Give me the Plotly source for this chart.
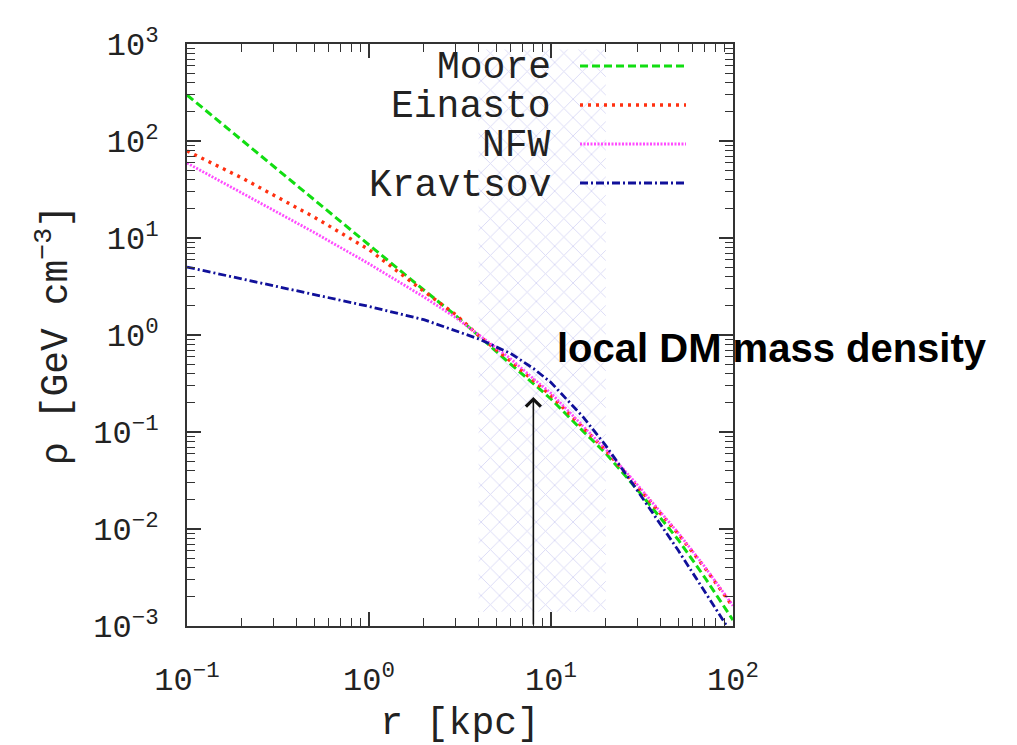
import plotly.graph_objects as go
import math

# ---------------- data ----------------
r_kpc = [0.1, 0.2, 0.5, 1, 2, 3, 4, 6, 8, 10, 15, 20, 30, 50, 70, 100]
rho_moore = [298, 102, 25.0, 8.59, 2.91, 1.585, 0.979, 0.501, 0.316, 0.219,
             0.102, 0.0603, 0.0251, 0.00776, 0.00316, 0.00115]
rho_einasto = [78.9, 41.7, 16.4, 7.59, 2.82, 1.62, 0.989, 0.537, 0.339, 0.237,
               0.111, 0.0646, 0.0269, 0.00891, 0.00398, 0.00158]
rho_nfw = [59.3, 29.4, 11.4, 5.42, 2.47, 1.51, 1.00, 0.569, 0.355, 0.251,
           0.115, 0.0661, 0.0282, 0.00912, 0.00407, 0.00162]
rho_kravtsov = [5.02, 3.80, 2.63, 1.97, 1.44, 1.10, 0.912, 0.646, 0.452, 0.324,
                0.143, 0.0724, 0.0245, 0.00603, 0.00224, 0.000794]

series_names = ["Moore", "Einasto", "NFW", "Kravtsov"]

# shaded band (solar neighbourhood range)
band_r = [4, 20]
band_rho = [1.4e-3, 880]

# local DM density arrow
local_r = 8.0
local_rho_tip = 0.23
local_rho_base = 1e-3
local_label = "local DM mass density"

x_tickvals = [0.1, 1, 10, 100]
x_ticktext = ["10<sup>\u22121</sup>", "10<sup>0</sup>", "10<sup>1</sup>", "10<sup>2</sup>"]
y_tickvals = [1e-3, 1e-2, 1e-1, 1, 10, 100, 1000]
y_ticktext = ["10<sup>\u22123</sup>", "10<sup>\u22122</sup>", "10<sup>\u22121</sup>",
              "10<sup>0</sup>", "10<sup>1</sup>", "10<sup>2</sup>", "10<sup>3</sup>"]

# ---------------- styles ----------------
styles = {
    "Moore": dict(color="#11dd11", width=3, dash="8px,4px"),
    "Einasto": dict(color="#ff3010", width=3.4, dash="3px,5px"),
    "NFW": dict(color="#ff4cff", width=2.8, dash="2px,1.5px"),
    "Kravtsov": dict(color="#10109a", width=2.8, dash="8px,3px,2px,3px"),
}
values = {"Moore": rho_moore, "Einasto": rho_einasto, "NFW": rho_nfw, "Kravtsov": rho_kravtsov}

MONO = "Liberation Mono"
AX = "#333333"
TXT = "#222222"

fig = go.Figure()

# hatched band
fig.add_trace(go.Scatter(
    x=[band_r[0], band_r[1], band_r[1], band_r[0]],
    y=[band_rho[0], band_rho[0], band_rho[1], band_rho[1]],
    fill="toself", mode="lines", line=dict(width=0),
    fillcolor="rgba(255,255,255,0)",
    fillpattern=dict(shape="x", fgcolor="#b4b4ec", bgcolor="rgba(255,255,255,0)",
                     size=13, solidity=0.14),
    hoverinfo="skip", showlegend=False,
))

for name in series_names:
    fig.add_trace(go.Scatter(
        x=r_kpc, y=values[name], mode="lines", name=name,
        line=styles[name], showlegend=False,
    ))

# ---------------- axes ----------------
def minor_vals(e0, e1):
    return [k * 10 ** e for e in range(e0, e1) for k in range(2, 10)]

common = dict(
    type="log", showgrid=False, zeroline=False,
    showline=True, linecolor=AX, linewidth=2, mirror="allticks",
    ticks="inside", ticklen=14, tickwidth=1.5, tickcolor=AX,
    tickfont=dict(family=MONO, size=32, color=TXT),
    tickmode="array",
)

fig.update_xaxes(
    **common, range=[-1, 2], tickvals=x_tickvals, ticktext=x_ticktext,
    ticklabelstandoff=24,
    minor=dict(ticks="inside", ticklen=8, tickwidth=1.2, tickcolor=AX, showgrid=False,
               tickmode="array", tickvals=minor_vals(-1, 2)),
    title=dict(text="r [kpc]", font=dict(family=MONO, size=38, color=TXT), standoff=12),
)
fig.update_yaxes(
    **common, range=[-3, 3], tickvals=y_tickvals, ticktext=y_ticktext,
    ticklabelstandoff=20,
    minor=dict(ticks="inside", ticklen=8, tickwidth=1.2, tickcolor=AX, showgrid=False,
               tickmode="array", tickvals=minor_vals(-3, 3)),
    title=dict(text="\u03c1 [GeV cm<sup>\u22123</sup>]",
               font=dict(family=MONO, size=38, color=TXT), standoff=14),
)

# ---------------- custom legend (text left of sample line) ----------------
legend_y_px = [66, 105, 144, 183]
plot_top, plot_bottom, plot_left, plot_w = 44, 626, 187, 546
annotations = []
shapes = []
for name, ypx in zip(series_names, legend_y_px):
    yp = (plot_bottom - ypx) / (plot_bottom - plot_top)
    annotations.append(dict(
        x=(553 - plot_left) / plot_w, y=yp - 2 / 582, xref="paper", yref="paper",
        xanchor="right", yanchor="middle", text=name, showarrow=False,
        font=dict(family=MONO, size=38, color=TXT),
    ))
    st = styles[name]
    shapes.append(dict(
        type="line", xref="paper", yref="paper",
        x0=(580 - plot_left) / plot_w, x1=(686 - plot_left) / plot_w, y0=yp, y1=yp,
        line=dict(color=st["color"], width=st["width"], dash=st["dash"]),
    ))

# arrow to local density
annotations.append(dict(
    x=math.log10(local_r), y=math.log10(local_rho_tip), xref="x", yref="y",
    ax=math.log10(local_r), ay=math.log10(local_rho_base), axref="x", ayref="y",
    text="", showarrow=True, arrowhead=4, arrowsize=1.8, arrowwidth=1.6,
    arrowcolor="#111111", standoff=0, startstandoff=0,
))
annotations.append(dict(
    x=(555 - plot_left) / plot_w, y=(plot_bottom - 348) / 582, xref="paper", yref="paper",
    xanchor="left", yanchor="middle", text=local_label, showarrow=False,
    font=dict(family="Liberation Sans", size=40, color="#000000", weight="bold"),
))

fig.update_layout(
    width=1017, height=745,
    margin=dict(l=187, r=284, t=44, b=119, autoexpand=False),
    paper_bgcolor="white", plot_bgcolor="white",
    showlegend=False,
    annotations=annotations, shapes=shapes,
)

fig.write_html("out.html")
